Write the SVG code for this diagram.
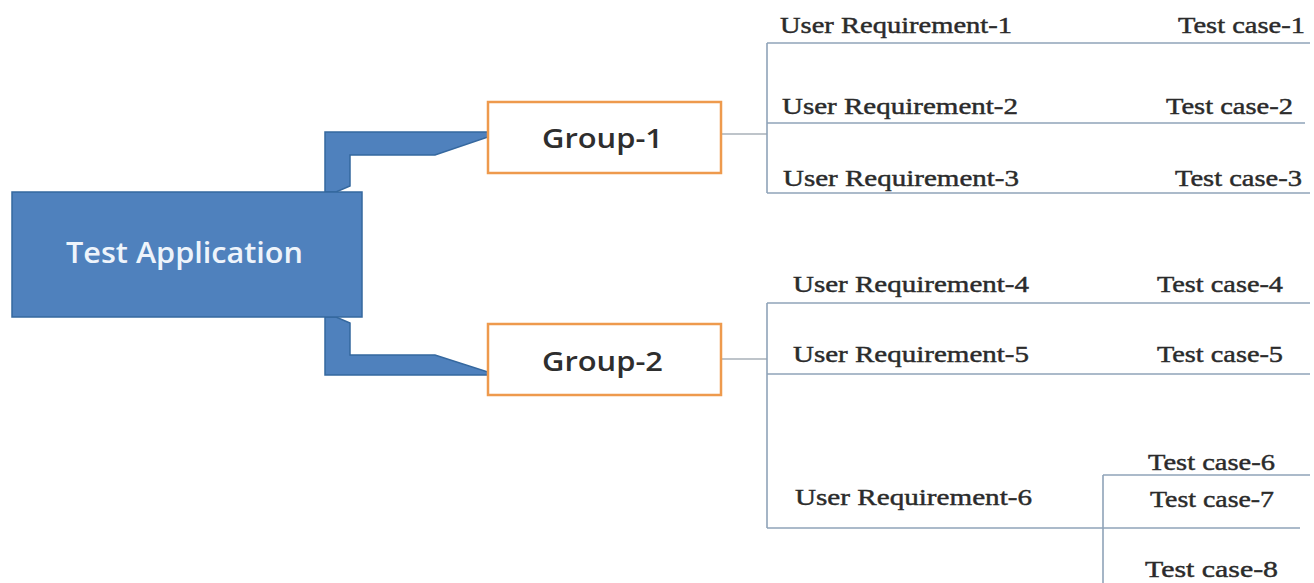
<svg xmlns="http://www.w3.org/2000/svg" width="1314" height="583" viewBox="0 0 1314 583">
<defs>
<style>
.blue{fill:#4f81bd;stroke:#35689f;stroke-width:1.5}
.grp{fill:#ffffff;stroke:#ee9a4d;stroke-width:2.5}
.ln{stroke:#8fa3b8;stroke-width:1.6;fill:none}
.cn{stroke:#a9b1b9;stroke-width:1.6;fill:none}
.main{font-family:"Open Sans","Liberation Sans",sans-serif;font-size:28px;font-weight:600;fill:#eef4fb}
.gt{font-family:"Open Sans","Liberation Sans",sans-serif;font-size:27px;font-weight:600;fill:#2e2e2e}
.t{font-family:"Liberation Serif","Times New Roman",serif;font-size:24px;fill:#2b2b2b;stroke:#2b2b2b;stroke-width:0.45}
</style>
</defs>
<rect width="1314" height="583" fill="#ffffff"/>
<g id="connectors">
<polygon class="blue" points="325,192 325,132 488,132 488,137 435,155 350,155 350,186 336,192"/>
<polygon class="blue" points="325,317 336,317 350,323 350,355 435,355 488,372 488,375 325,375"/>
<line class="cn" x1="721" y1="134" x2="767" y2="134"/>
<line class="cn" x1="721" y1="359" x2="767" y2="359"/>
<line class="ln" x1="767" y1="43" x2="767" y2="193"/>
<line class="ln" x1="767" y1="43" x2="1310" y2="43"/>
<line class="ln" x1="767" y1="123" x2="1305" y2="123"/>
<line class="ln" x1="767" y1="193" x2="1310" y2="193"/>
<line class="ln" x1="767" y1="303" x2="767" y2="528"/>
<line class="ln" x1="767" y1="303" x2="1310" y2="303"/>
<line class="ln" x1="767" y1="374" x2="1310" y2="374"/>
<line class="ln" x1="767" y1="528" x2="1300" y2="528"/>
<line class="ln" x1="1103" y1="475" x2="1310" y2="475"/>
<line class="ln" x1="1103" y1="475" x2="1103" y2="583"/>
</g>
<g id="test-application">
<rect class="blue" x="12" y="192" width="350" height="125"/>
<text class="main" x="66" y="263" textLength="237" lengthAdjust="spacingAndGlyphs">Test Application</text>
</g>
<g id="group-1">
<rect class="grp" x="488" y="102" width="233" height="71"/>
<text class="gt" x="542" y="148" textLength="121" lengthAdjust="spacingAndGlyphs">Group-1</text>
</g>
<g id="group-2">
<rect class="grp" x="488" y="324" width="233" height="71"/>
<text class="gt" x="542" y="371" textLength="121" lengthAdjust="spacingAndGlyphs">Group-2</text>
</g>
<g id="ur-1"><text class="t" x="780" y="33" textLength="232" lengthAdjust="spacingAndGlyphs">User Requirement-1</text></g>
<g id="tc-1"><text class="t" x="1178" y="33" textLength="127" lengthAdjust="spacingAndGlyphs">Test case-1</text></g>
<g id="ur-2"><text class="t" x="782" y="114" textLength="236" lengthAdjust="spacingAndGlyphs">User Requirement-2</text></g>
<g id="tc-2"><text class="t" x="1166" y="114" textLength="127" lengthAdjust="spacingAndGlyphs">Test case-2</text></g>
<g id="ur-3"><text class="t" x="783" y="186" textLength="236" lengthAdjust="spacingAndGlyphs">User Requirement-3</text></g>
<g id="tc-3"><text class="t" x="1175" y="186" textLength="127" lengthAdjust="spacingAndGlyphs">Test case-3</text></g>
<g id="ur-4"><text class="t" x="793" y="292" textLength="236" lengthAdjust="spacingAndGlyphs">User Requirement-4</text></g>
<g id="tc-4"><text class="t" x="1157" y="292" textLength="126" lengthAdjust="spacingAndGlyphs">Test case-4</text></g>
<g id="ur-5"><text class="t" x="793" y="362" textLength="236" lengthAdjust="spacingAndGlyphs">User Requirement-5</text></g>
<g id="tc-5"><text class="t" x="1157" y="362" textLength="126" lengthAdjust="spacingAndGlyphs">Test case-5</text></g>
<g id="ur-6"><text class="t" x="795" y="505" textLength="237" lengthAdjust="spacingAndGlyphs">User Requirement-6</text></g>
<g id="tc-6"><text class="t" x="1148" y="470" textLength="127" lengthAdjust="spacingAndGlyphs">Test case-6</text></g>
<g id="tc-7"><text class="t" x="1150" y="507" textLength="124" lengthAdjust="spacingAndGlyphs">Test case-7</text></g>
<g id="tc-8"><text class="t" x="1145" y="577" textLength="133" lengthAdjust="spacingAndGlyphs">Test case-8</text></g>
</svg>
